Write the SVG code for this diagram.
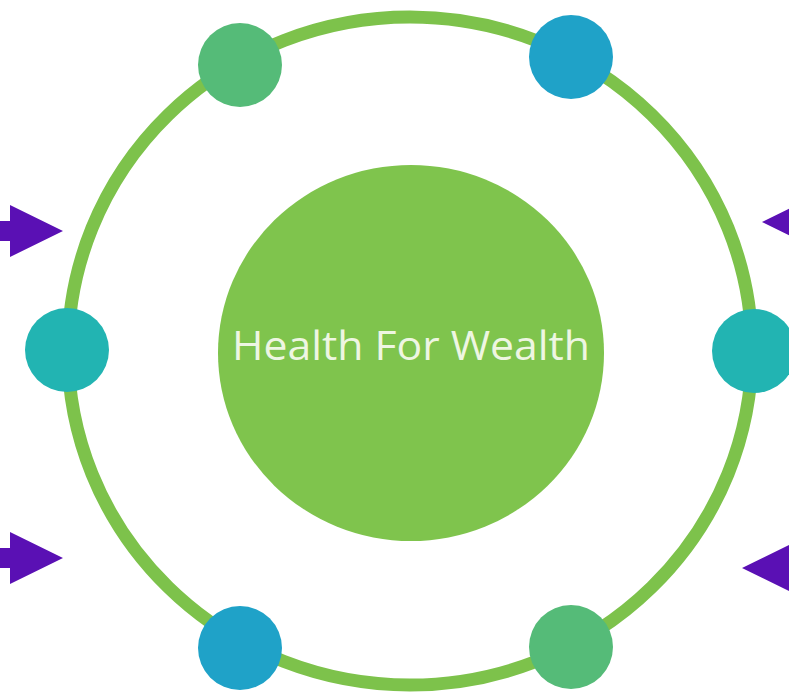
<svg xmlns="http://www.w3.org/2000/svg" width="789" height="695" viewBox="0 0 789 695">
<style>
.ring{fill:none;stroke:#7dc24b;stroke-width:13}
.hub{fill:#7fc44d}
.g{fill:#55bb78}
.b{fill:#1fa2c8}
.t{fill:#22b4b2}
.arrow{fill:#5a10b4}
.label{font-family:"Open Sans","Liberation Sans",sans-serif;font-size:40px;fill:#eef6e2;text-anchor:middle}
</style>
<defs>
<path id="arr" d="M-10,-10 L0,-10 L0,-26 L53,0 L0,26 L0,10 L-10,10 Z"/>
</defs>
<rect width="789" height="695" fill="#ffffff"/>
<g id="connectors">
<ellipse class="ring" cx="410" cy="351" rx="342" ry="334"/>
</g>
<g id="arrows">
<use href="#arr" class="arrow" transform="translate(10,231)"/>
<use href="#arr" class="arrow" transform="translate(10,558)"/>
<use href="#arr" class="arrow" transform="translate(815,222) scale(-1,1)"/>
<use href="#arr" class="arrow" transform="translate(795,568) scale(-1,1)"/>
</g>
<g id="center">
<ellipse class="hub" cx="411" cy="353" rx="193" ry="188"/>
<text class="label" x="411" y="360" textLength="358" lengthAdjust="spacingAndGlyphs">Health For Wealth</text>
</g>
<g id="node-top-left"><circle class="g" cx="240" cy="65" r="42"/></g>
<g id="node-top-right"><circle class="b" cx="571" cy="57" r="42"/></g>
<g id="node-left"><circle class="t" cx="67" cy="350" r="42"/></g>
<g id="node-right"><circle class="t" cx="754" cy="351" r="42"/></g>
<g id="node-bottom-left"><circle class="b" cx="240" cy="648" r="42"/></g>
<g id="node-bottom-right"><circle class="g" cx="571" cy="647" r="42"/></g>
</svg>
